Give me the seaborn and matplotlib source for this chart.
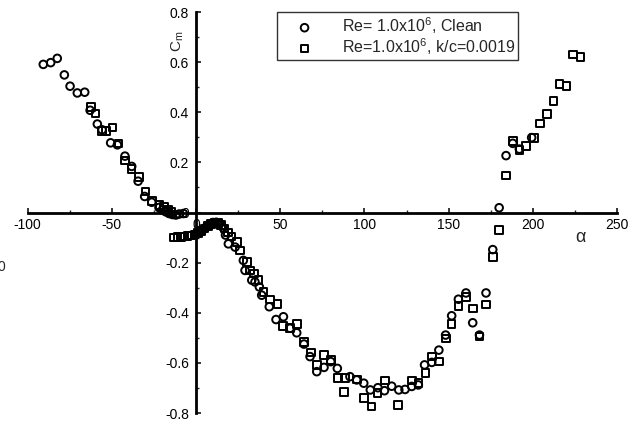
import numpy as np
import pandas as pd
import matplotlib
matplotlib.use("Agg")
import matplotlib.pyplot as plt
import seaborn as sns
from matplotlib.ticker import MultipleLocator, FuncFormatter

# Pitching-moment coefficient vs angle of attack, Re = 1.0e6
alpha_clean = [-90.7, -86.3, -82.4, -78.2, -74.8, -70.5, -66.1, -62.9, -58.6, -55.8,
               -50.7, -46.7, -42.2, -38.2, -34.4, -30.5, -26.3, -22.0, -20.0, -18.0,
               -16.0, -14.0, -12.0, -10.0, -7.5,
               0.0, 2.0, 4.0, 6.0, 8.0, 10.0, 12.0, 14.0, 16.0, 17.5,
               19.2, 23.2, 28.1, 29.1, 33.1, 35.0, 37.6, 39.0, 43.5, 47.5,
               51.9, 55.8, 59.8, 64.1, 67.7, 71.7, 76.0, 80.0, 83.9, 91.4,
               95.4, 99.6, 103.5, 108.0, 111.9, 116.2, 120.4, 124.1, 128.1, 132.0,
               135.7, 140.0, 144.2, 148.2, 151.8, 155.8, 160.3, 164.3, 168.3, 172.2,
               176.2, 180.0, 184.1, 188.1, 192.0, 199.3]
cm_clean = [0.591, 0.598, 0.615, 0.549, 0.504, 0.477, 0.480, 0.408, 0.353, 0.330,
            0.278, 0.270, 0.225, 0.184, 0.125, 0.064, 0.041, 0.020, 0.010, 0.003,
            -0.004, -0.008, -0.010, -0.006, -0.004,
            -0.088, -0.080, -0.070, -0.058, -0.047, -0.040, -0.039, -0.045, -0.060, -0.090,
            -0.125, -0.138, -0.191, -0.231, -0.270, -0.277, -0.297, -0.330, -0.376, -0.427,
            -0.416, -0.462, -0.480, -0.525, -0.575, -0.635, -0.618, -0.595, -0.622, -0.655,
            -0.668, -0.681, -0.708, -0.699, -0.711, -0.693, -0.708, -0.706, -0.694, -0.688,
            -0.608, -0.598, -0.549, -0.489, -0.412, -0.346, -0.321, -0.440, -0.489, -0.321,
            -0.148, 0.019, 0.227, 0.276, 0.253, 0.299]

alpha_rough = [-62.5, -59.8, -56.0, -53.4, -49.7, -46.1, -42.3, -38.4, -34.0, -30.1,
               -26.1, -21.8, -19.0, -16.5, -14.5,
               -13.0, -11.0, -9.0, -7.0, -5.0, -3.0, -1.0, 1.0, 3.0, 5.0,
               7.0, 9.0, 11.0, 13.0, 15.0, 17.0, 19.0, 21.0, 24.2, 26.1,
               30.1, 32.1, 34.6, 37.0, 40.0, 43.9, 48.3, 51.5, 55.8, 59.8,
               64.1, 68.1, 72.0, 76.0, 80.2, 84.3, 87.9, 88.5, 95.6, 99.9,
               104.3, 107.8, 112.2, 120.1, 128.1, 132.0, 136.3, 140.0, 144.2, 148.5,
               151.8, 155.8, 160.3, 164.3, 168.3, 172.2, 176.2, 179.9, 184.1, 188.1,
               192.0, 196.0, 200.7, 204.3, 208.3, 212.2, 215.8, 220.1, 224.0, 228.4]
cm_rough = [0.421, 0.395, 0.326, 0.326, 0.339, 0.276, 0.207, 0.174, 0.141, 0.084,
            0.045, 0.031, 0.021, 0.010, 0.002,
            -0.100, -0.098, -0.097, -0.095, -0.093, -0.091, -0.088, -0.082, -0.074, -0.064,
            -0.054, -0.045, -0.040, -0.041, -0.050, -0.064, -0.080, -0.096, -0.118, -0.151,
            -0.198, -0.231, -0.244, -0.270, -0.317, -0.347, -0.366, -0.453, -0.462, -0.445,
            -0.516, -0.559, -0.608, -0.569, -0.588, -0.661, -0.716, -0.661, -0.667, -0.741,
            -0.774, -0.721, -0.671, -0.767, -0.671, -0.681, -0.641, -0.575, -0.595, -0.502,
            -0.445, -0.374, -0.337, -0.383, -0.494, -0.367, -0.178, -0.069, 0.147, 0.286,
            0.249, 0.266, 0.297, 0.355, 0.392, 0.445, 0.512, 0.505, 0.631, 0.620]

label_clean = "Re= 1.0x10$^{6}$, Clean"
label_rough = "Re=1.0x10$^{6}$, k/c=0.0019"

x_ticks = [-100, -50, 0, 50, 100, 150, 200, 250]
y_ticks = [-0.8, -0.6, -0.4, -0.2, 0, 0.2, 0.4, 0.6, 0.8]

sns.set_style("white")
plt.rcParams["font.family"] = ["Liberation Sans", "DejaVu Sans"]
plt.rcParams["mathtext.default"] = "regular"

clean = pd.DataFrame({"alpha": alpha_clean, "cm": cm_clean})
rough = pd.DataFrame({"alpha": alpha_rough, "cm": cm_rough})

fig = plt.figure(figsize=(6.35, 4.26), dpi=100)
ax = fig.add_axes([0.0435, 0.0305, 0.9282, 0.9413])

mk = dict(facecolor="none", edgecolor="black", linewidth=1.4, s=30, zorder=3)
sns.scatterplot(data=clean, x="alpha", y="cm", marker="o", ax=ax, label=label_clean, **mk)
sns.scatterplot(data=rough, x="alpha", y="cm", marker="s", ax=ax, label=label_rough, **mk)

ax.set_xlim(-100, 250)
ax.set_ylim(-0.8, 0.8)

# axes crossing at the origin
for side in ("top", "right"):
    ax.spines[side].set_visible(False)
for side in ("left", "bottom"):
    ax.spines[side].set_position(("data", 0))
    ax.spines[side].set_linewidth(2.0)
    ax.spines[side].set_color("black")

ax.set_xticks(x_ticks)
ax.set_yticks(y_ticks)
ax.xaxis.set_minor_locator(MultipleLocator(25))
ax.yaxis.set_minor_locator(MultipleLocator(0.1))
ax.xaxis.set_major_formatter(FuncFormatter(lambda v, p: f"{v:g}"))
ax.yaxis.set_major_formatter(FuncFormatter(lambda v, p: "0" if abs(v) < 1e-9 else f"{v:.1f}"))
ax.tick_params(which="major", direction="in", length=3.5, width=1.1, labelsize=10,
               colors="black", bottom=True, left=True)
ax.tick_params(axis="x", which="major", pad=4)
ax.tick_params(axis="y", which="major", pad=5)
ax.tick_params(which="minor", direction="in", length=2, width=1.0, bottom=True, left=True)

ax.set_xlabel("")
ax.set_ylabel("")
ax.text(-10.7, 0.684, "C$_{m}$", rotation=90, ha="center", va="center", fontsize=11)
ax.text(228, -0.10, "α", ha="center", va="center", fontsize=13)

fig.text(0.002, 1 - 267 / 426, "0", ha="center", va="center", fontsize=10)

leg = ax.legend(loc="upper left", bbox_to_anchor=(277 / 635, 1 - 12 / 426),
                bbox_transform=fig.transFigure, borderaxespad=0, fontsize=11.5,
                frameon=True, fancybox=False, shadow=False, edgecolor="black",
                handlelength=3.05, handletextpad=0.8, scatterpoints=1,
                labelspacing=0.0, borderpad=0.2)
leg.get_frame().set_linewidth(1.0)

fig.savefig("out.png", dpi=100)
